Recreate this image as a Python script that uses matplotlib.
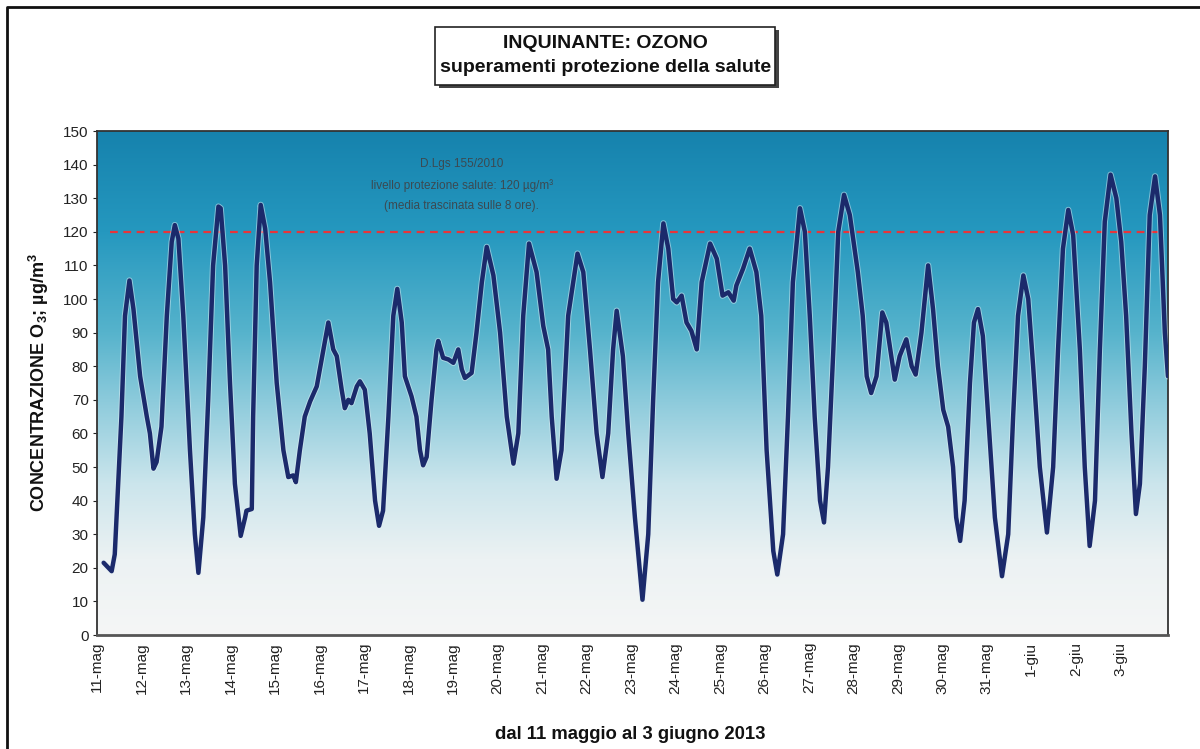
import matplotlib.pyplot as plt
import matplotlib.patheffects as pe
from matplotlib.colors import LinearSegmentedColormap
from matplotlib.patches import Rectangle
from matplotlib.lines import Line2D
import numpy as np

plt.rcParams['font.family'] = ['Liberation Sans', 'DejaVu Sans']
plt.rcParams['mathtext.fontset'] = 'custom'
plt.rcParams['mathtext.rm'] = 'Liberation Sans'
plt.rcParams['mathtext.bf'] = 'Liberation Sans:bold'

# ------------------------------------------------------------------
# dati: media mobile 8 ore O3, tempo in giorni dall'11 maggio
# ------------------------------------------------------------------
giorni = [0.15, 0.33, 0.40, 0.55, 0.63, 0.73, 0.82, 0.97, 1.12, 1.19, 1.27, 1.34, 1.45, 1.57,
          1.68, 1.75, 1.83, 1.94, 2.09, 2.20, 2.28, 2.39, 2.50, 2.61, 2.73, 2.78, 2.88, 2.99,
          3.10, 3.23, 3.33, 3.36, 3.48, 3.51, 3.59, 3.68, 3.78, 3.89, 4.04, 4.19, 4.30, 4.41,
          4.47, 4.56, 4.67, 4.79, 4.94, 5.09, 5.20, 5.31, 5.39, 5.50, 5.57, 5.65, 5.72, 5.84,
          5.91, 6.02, 6.13, 6.25, 6.34, 6.43, 6.55, 6.66, 6.75, 6.85, 6.92, 7.07, 7.18, 7.26,
          7.33, 7.41, 7.52, 7.63, 7.67, 7.78, 7.90, 8.01, 8.12, 8.20, 8.27, 8.42, 8.53, 8.65,
          8.76, 8.91, 9.06, 9.21, 9.36, 9.47, 9.58, 9.71, 9.88, 10.03, 10.14, 10.22, 10.33,
          10.44, 10.59, 10.80, 10.93, 11.08, 11.23, 11.36, 11.49, 11.60, 11.68, 11.82, 11.94,
          12.09, 12.26, 12.39, 12.50, 12.61, 12.73, 12.84, 12.95, 13.03, 13.14, 13.25, 13.36,
          13.48, 13.59, 13.78, 13.93, 14.06, 14.19, 14.31, 14.37, 14.52, 14.67, 14.82, 14.93,
          15.05, 15.20, 15.29, 15.42, 15.53, 15.64, 15.80, 15.91, 16.02, 16.13, 16.25, 16.34,
          16.43, 16.55, 16.66, 16.79, 16.92, 17.10, 17.21, 17.30, 17.40, 17.52, 17.65, 17.74,
          17.93, 18.04, 18.19, 18.31, 18.40, 18.53, 18.68, 18.79, 18.90, 19.02, 19.13, 19.24,
          19.31, 19.40, 19.50, 19.62, 19.71, 19.80, 19.91, 20.03, 20.18, 20.34, 20.48, 20.59,
          20.70, 20.82, 20.93, 21.04, 21.19, 21.35, 21.49, 21.60, 21.71, 21.83, 21.94, 22.09,
          22.20, 22.31, 22.43, 22.54, 22.65, 22.78, 22.91, 23.02, 23.13, 23.25, 23.35, 23.44,
          23.55, 23.66, 23.78, 23.89, 24.00, 24.07]
ozono = [21.5, 19.0, 24, 65, 95, 105.5, 97, 77, 65, 60, 49.5, 51.5, 62, 95,
         117, 122, 118, 95, 55, 30, 18.5, 35, 70, 110, 127.5, 127, 110, 75,
         45, 29.5, 35, 37, 37.5, 65, 110, 128, 121, 105, 75, 55, 47, 47.5,
         45.5, 55, 65, 69.5, 74, 85, 93, 85, 83, 73, 67.5, 70, 69, 74,
         75.5, 73, 60, 40, 32.5, 37, 65, 95, 103, 93, 77, 71, 65, 55,
         50.5, 53, 70, 85, 87.5, 82.5, 82, 81, 85, 79, 76.5, 78, 90, 105,
         115.5, 107, 90, 65, 51, 60, 95, 116.5, 108, 92, 85, 65, 46.5,
         55, 95, 113.5, 108, 85, 60, 47, 60, 85, 96.5, 83, 60,
         35, 10.5, 30, 70, 105, 122.5, 115, 100, 99, 101, 93, 90.5,
         85, 105, 116.5, 112, 101, 102, 99.5, 104, 109, 115, 108, 95,
         55, 25, 18, 30, 65, 105, 127, 120, 95, 65, 40, 33.5,
         50, 85, 120, 131, 125, 108, 95, 77, 72, 77, 96, 93,
         76, 83, 88, 80, 77.5, 90, 110, 97, 80, 67, 62, 50,
         35, 28, 40, 75, 93, 97, 89, 65, 35, 17.5, 30, 65,
         95, 107, 100, 80, 50, 30.5, 50, 85, 115, 126.5, 119, 85,
         50, 26.5, 40, 85, 123, 137, 130, 117, 95, 60, 36, 45,
         80, 125, 136.5, 125, 90, 77]

etichette_giorni = ['11-mag', '12-mag', '13-mag', '14-mag', '15-mag', '16-mag', '17-mag',
                    '18-mag', '19-mag', '20-mag', '21-mag', '22-mag', '23-mag', '24-mag',
                    '25-mag', '26-mag', '27-mag', '28-mag', '29-mag', '30-mag', '31-mag',
                    '1-giu', '2-giu', '3-giu']
soglia = 120
soglia_da, soglia_a = 0.3, 23.9

# ------------------------------------------------------------------
fig = plt.figure(figsize=(12, 7.49), dpi=100)
ax = fig.add_axes([0.0808, 0.1522, 0.8925, 0.6729])

# sfondo sfumato (bianco -> azzurro)
cmap = LinearSegmentedColormap.from_list('sfondo', [
    (0.0, '#f5f6f6'), (0.15, '#ecf2f3'), (0.3, '#cbe5ec'), (0.45, '#92cddd'),
    (0.6, '#56b3cc'), (0.8, '#2598bf'), (1.0, '#1682ad')])
grad = np.linspace(0, 1, 256).reshape(-1, 1)
ax.imshow(grad, aspect='auto', cmap=cmap, origin='lower',
          extent=[0, 1, 0, 1], transform=ax.transAxes, zorder=0)

ax.hlines(soglia, soglia_da, soglia_a, colors='#e8343a', linestyles=(0, (3.5, 2.5)),
          linewidth=1.6, zorder=2)

ax.plot(giorni, ozono, color='#1b2a6b', linewidth=3.2, solid_joinstyle='round',
        solid_capstyle='round', zorder=3,
        path_effects=[pe.Stroke(linewidth=4.6, foreground='#e4f1f5', alpha=0.5), pe.Normal()])

ax.text(8.2, 134, 'D.Lgs 155/2010\nlivello protezione salute: 120 µg/m³\n(media trascinata sulle 8 ore).',
        ha='center', va='center', fontsize=8.5, color='#3b4a52', linespacing=1.9, zorder=4)

ax.set_xlim(0, 24.07)
ax.set_ylim(0, 150)
ax.set_yticks(np.arange(0, 151, 10))
ax.set_xticks(np.arange(len(etichette_giorni)))
ax.set_xticklabels(etichette_giorni, rotation=90, fontsize=11, color='#222222')
ax.tick_params(axis='y', labelsize=11, colors='#222222', length=3, width=0.8, pad=3)
ax.tick_params(axis='x', length=0, pad=5)
for s in ax.spines.values():
    s.set_color('#333333')
    s.set_linewidth(1.3)
ax.spines['bottom'].set_color('#555555')
ax.spines['bottom'].set_linewidth(2)

ax.set_ylabel(r'CONCENTRAZIONE O$_{\mathbf{3}}$; µg/m$^{\mathbf{3}}$', fontsize=13,
              fontweight='bold', color='#111111', labelpad=9)
fig.text(0.525, 0.008, 'dal 11 maggio al 3 giugno 2013', ha='center', va='bottom',
         fontsize=13.3, fontweight='bold', color='#111111')

# riquadro del titolo con ombra
fig.patches.append(Rectangle((439 / 1200, 1 - 88 / 749), 340 / 1200, 58 / 749,
                             transform=fig.transFigure, facecolor='#444444', edgecolor='none'))
fig.patches.append(Rectangle((435 / 1200, 1 - 85 / 749), 340 / 1200, 58 / 749,
                             transform=fig.transFigure, facecolor='white', edgecolor='#222222',
                             linewidth=1.2))
fig.text(605 / 1200, 1 - 43 / 749, 'INQUINANTE: OZONO', ha='center', va='center',
         fontsize=14, fontweight='bold', color='#111111')
fig.text(606 / 1200, 1 - 68 / 749, 'superamenti protezione della salute', ha='center',
         va='center', fontsize=14, fontweight='bold', color='#111111')

# cornice del foglio scansionato (bordo sinistro e superiore)
fig.lines.append(Line2D([7 / 1200, 7 / 1200, 1.0], [0.0, 1 - 7 / 749, 1 - 7 / 749],
                        transform=fig.transFigure, color='#111111', linewidth=2))

plt.savefig('out.png', dpi=100)
plt.close()
